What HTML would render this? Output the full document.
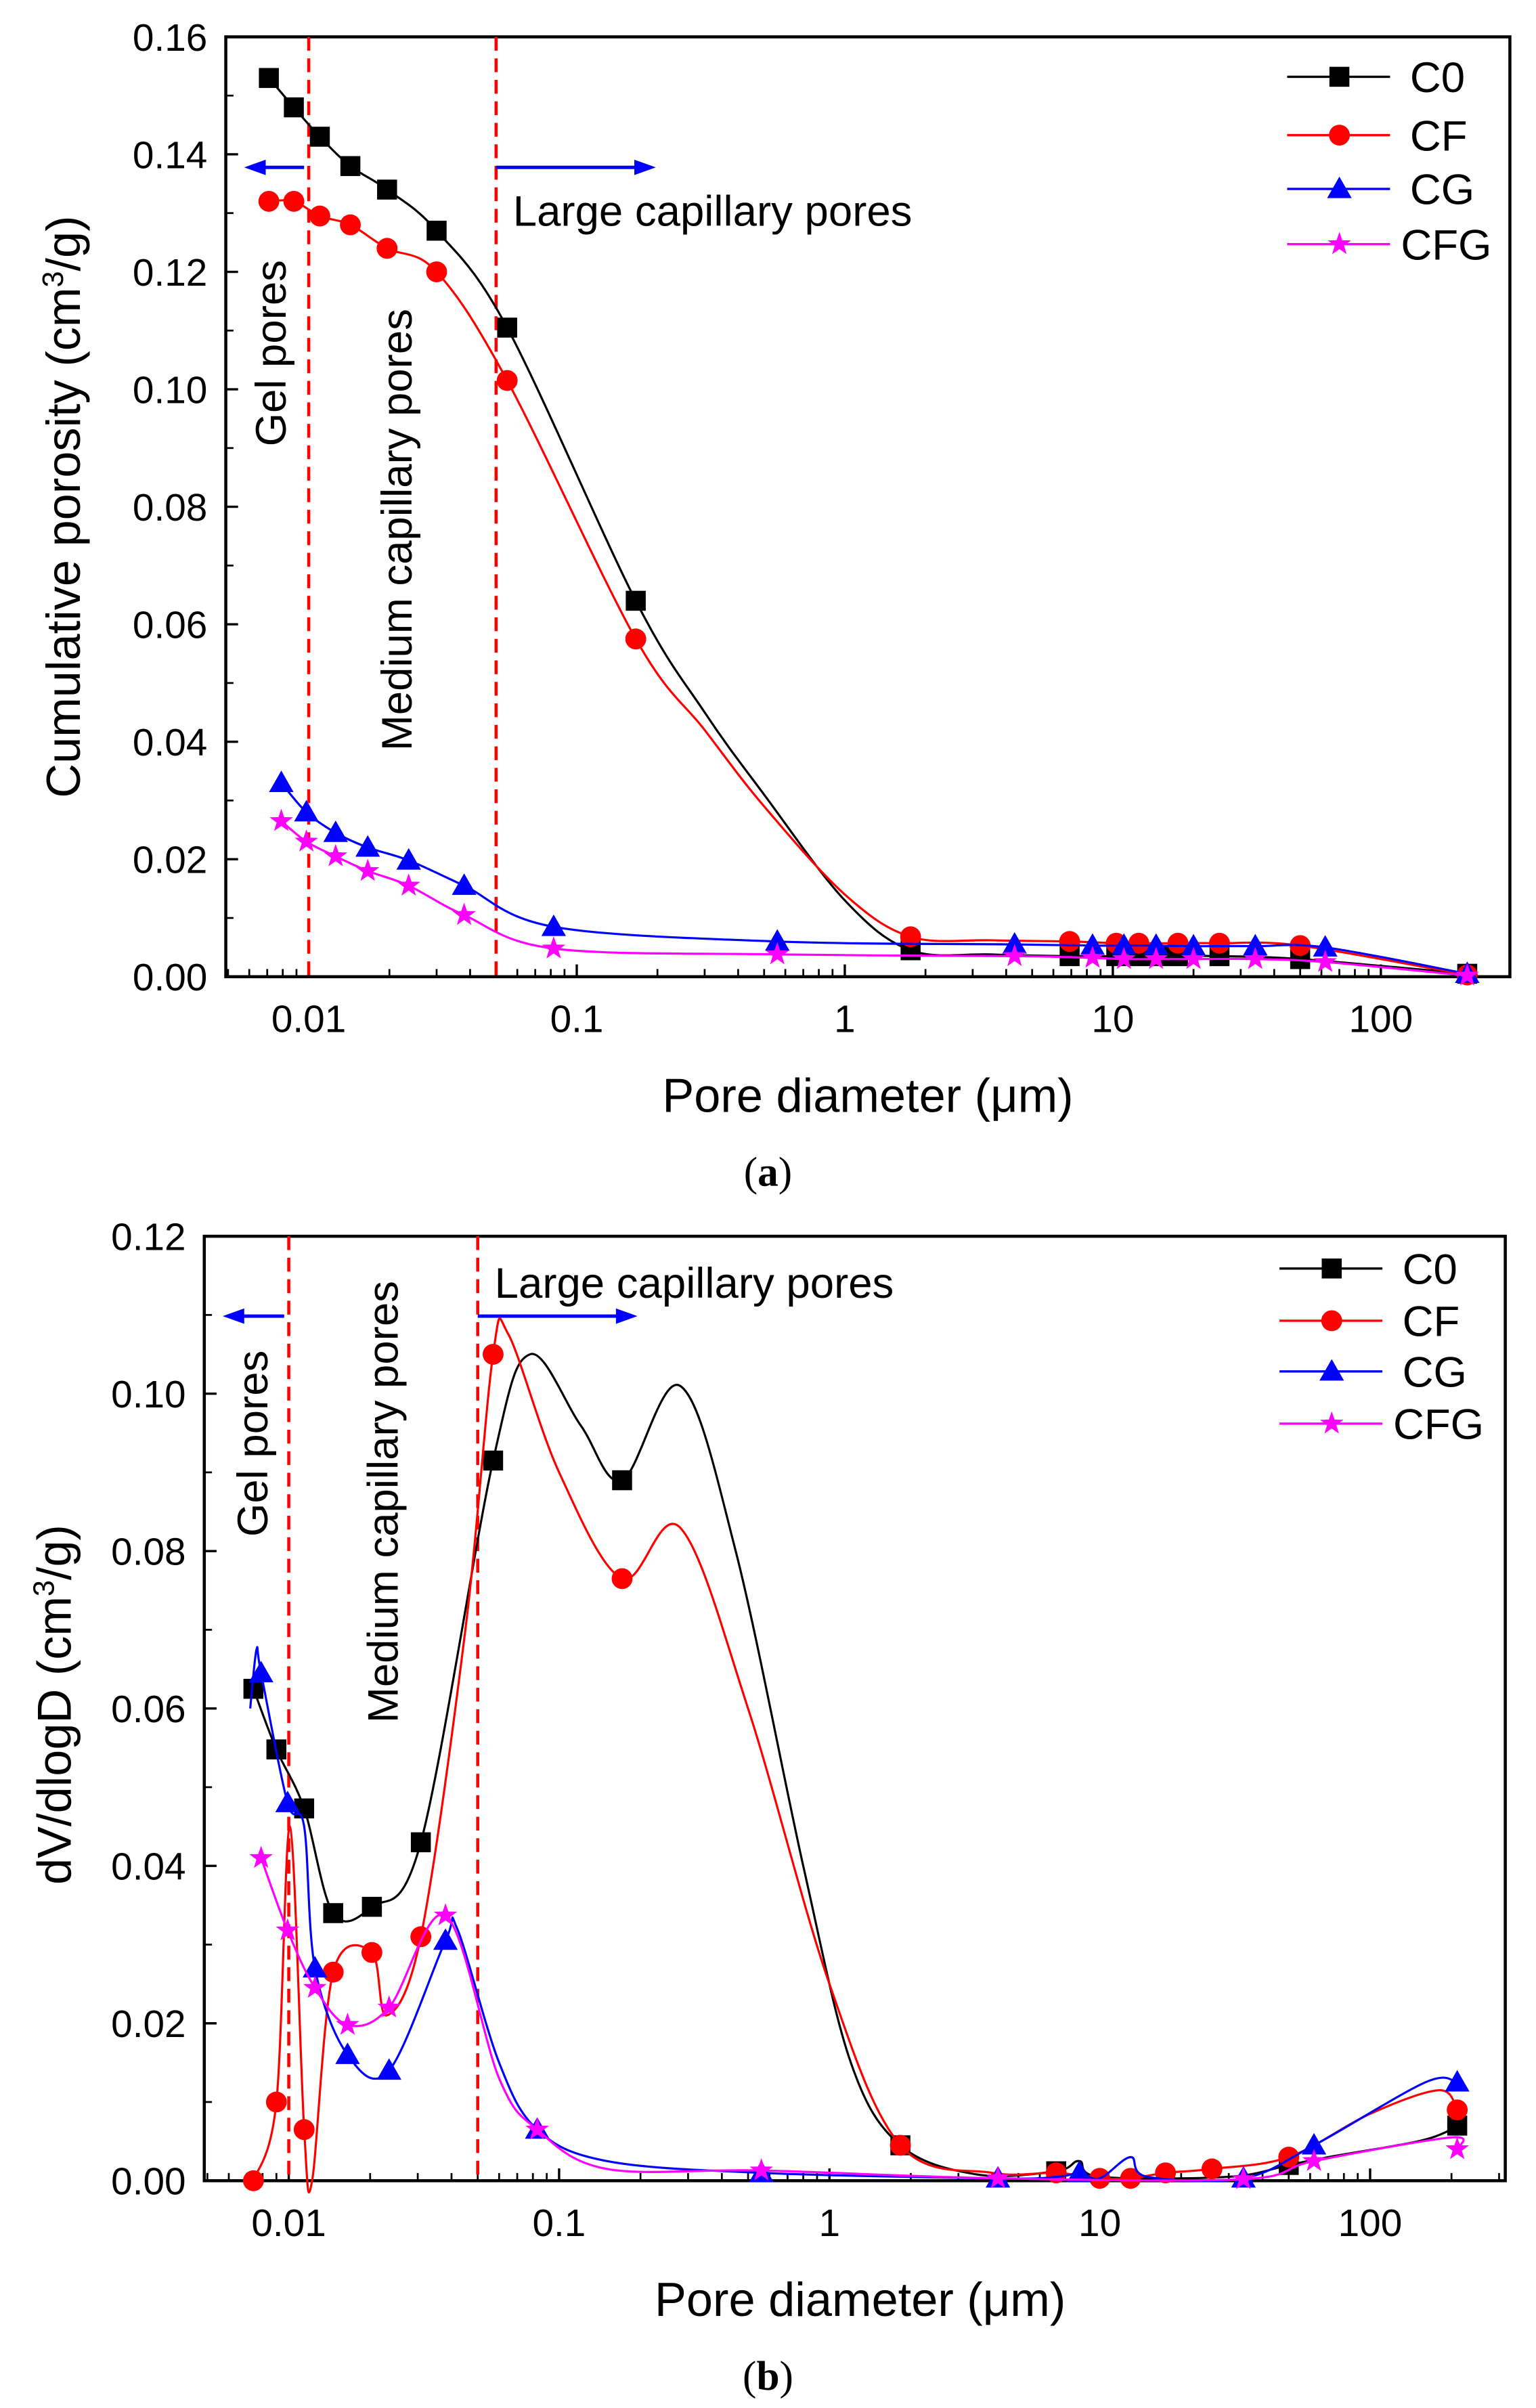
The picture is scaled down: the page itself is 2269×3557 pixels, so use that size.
<!DOCTYPE html>
<html><head><meta charset="utf-8"><style>
html,body{margin:0;padding:0;background:#fff;}
svg{display:block;}
text{font-family:"Liberation Sans",sans-serif;fill:#000;}
</style></head><body>
<svg id="fig" width="2269" height="3557" viewBox="0 0 1000 1568" preserveAspectRatio="none" xmlns="http://www.w3.org/2000/svg">
<g id="chartA"></g>
<g id="chartB"></g>
<text x="500" y="772" text-anchor="middle" font-size="27" style="font-family:'Liberation Serif',serif">(<tspan font-weight="bold">a</tspan>)</text>
<text x="500" y="1556" text-anchor="middle" font-size="27" style="font-family:'Liberation Serif',serif">(<tspan font-weight="bold">b</tspan>)</text>
</svg>
<script>
// ---- Chart A data (m = 1 marker drawn at point) ----
const seriesNames = ["C0","CF","CG","CFG"];
const aC0x = [0.0071,0.0088,0.011,0.0143,0.0196,0.030,0.055,0.166,0.3,0.5,1,1.76,3.5,6.9,10.3,12.5,14.8,17.5,25,50,210];
const aC0y = [0.153,0.148,0.143,0.138,0.134,0.127,0.1105,0.064,0.045,0.031,0.013,0.0045,0.0038,0.0035,0.0035,0.0035,0.0035,0.0035,0.0035,0.003,0.0005];
const aC0m = [1,1,1,1,1,1,1,1,0,0,0,1,0,1,1,1,1,1,1,1,1];
const aCFx = [0.0071,0.0088,0.011,0.0143,0.0196,0.030,0.055,0.166,0.3,0.5,1,1.76,3.5,6.9,10.3,12.5,17.5,25,50,210];
const aCFy = [0.132,0.132,0.1295,0.128,0.124,0.120,0.1015,0.0575,0.042,0.029,0.014,0.0068,0.0062,0.006,0.0057,0.0057,0.0057,0.0057,0.0053,0.0003];
const aCFm = [1,1,1,1,1,1,1,1,0,0,0,1,0,1,1,1,1,1,1,1];
const aCGx = [0.0079,0.0098,0.0126,0.0166,0.0236,0.038,0.082,0.56,4.3,8.4,11,14.5,20,34,62,210];
const aCGy = [0.033,0.028,0.0245,0.022,0.0198,0.0155,0.0085,0.006,0.0055,0.0053,0.0053,0.0053,0.0052,0.0052,0.005,0.0005];
const aCFGx = [0.0079,0.0098,0.0126,0.0166,0.0236,0.038,0.082,0.56,4.3,8.4,11,14.5,20,34,62,210];
const aCFGy = [0.0265,0.023,0.0205,0.018,0.0155,0.0105,0.0048,0.0038,0.0035,0.0032,0.003,0.003,0.003,0.003,0.0025,0.0002];
const aYTicks = [0,0.02,0.04,0.06,0.08,0.10,0.12,0.14,0.16];
const aYLabels = ["0.00","0.02","0.04","0.06","0.08","0.10","0.12","0.14","0.16"];
// ---- Chart B data ----
const bC0x = [0.0074,0.0090,0.0114,0.0146,0.0203,0.0308,0.057,0.078,0.12,0.171,0.28,0.45,0.8,1.2,1.83,3.5,6.9,8.4,10,30,50,70,150,200,210];
const bC0y = [0.0625,0.0548,0.0473,0.034,0.0348,0.043,0.0915,0.105,0.096,0.089,0.101,0.08,0.04,0.015,0.0045,0.0008,0.0012,0.0025,0.0005,0.0005,0.002,0.003,0.005,0.0065,0.007];
const bC0m = [1,1,1,1,1,1,1,0,0,1,0,0,0,0,1,0,1,0,0,0,1,0,0,0,1];
const bCFx = [0.0074,0.0090,0.0101,0.0114,0.0122,0.0146,0.0203,0.023,0.0308,0.045,0.057,0.065,0.1,0.171,0.28,0.5,1,1.83,4,6.9,10,13,17.5,26,50,100,180,210];
const bCFy = [0,0.010,0.045,0.0065,0,0.0265,0.029,0.021,0.031,0.07,0.105,0.1075,0.09,0.0765,0.083,0.06,0.025,0.0045,0.001,0.001,0.0003,0.0003,0.001,0.0015,0.003,0.0085,0.0115,0.009];
const bCFm = [1,1,0,1,0,1,1,0,1,0,1,0,0,1,0,0,0,1,0,1,1,1,1,1,1,0,0,1];
const bCGx = [0.0072,0.0076,0.0079,0.0099,0.0114,0.0125,0.0165,0.0235,0.038,0.042,0.06,0.083,0.15,0.56,4.2,7,8.4,10,13,15,34,62,160,210];
const bCGy = [0.060,0.0675,0.0645,0.048,0.045,0.027,0.016,0.014,0.0305,0.032,0.015,0.0065,0.0025,0.001,0.0003,0.0005,0.001,0.0003,0.003,0.0005,0.0003,0.0045,0.0125,0.0125];
const bCGm = [0,0,1,1,0,1,1,1,1,0,0,1,0,1,1,0,1,0,0,0,1,1,0,1];
const bCFGx = [0.0079,0.0099,0.0125,0.0165,0.0235,0.038,0.06,0.083,0.15,0.56,4.2,34,62,200,210];
const bCFGy = [0.041,0.0318,0.0245,0.0198,0.022,0.0337,0.013,0.0065,0.0015,0.0013,0.0003,0.0002,0.0025,0.0055,0.004];
const bCFGm = [1,1,1,1,1,1,0,1,0,1,1,1,1,0,1];
const bYTicks = [0,0.02,0.04,0.06,0.08,0.10,0.12];
const bYLabels = ["0.00","0.02","0.04","0.06","0.08","0.10","0.12"];
const xTickVals = [0.01,0.1,1,10,100];
const xTickLabels = ["0.01","0.1","1","10","100"];

const NS="http://www.w3.org/2000/svg";
const colors={C0:"#000",CF:"#f00",CG:"#00f",CFG:"#f0f"};
function mk(tag,parent,attrs){const e=document.createElementNS(NS,tag);for(const k in attrs)e.setAttribute(k,attrs[k]);parent.appendChild(e);return e;}

function smoothPath(pts){
  let d="M"+pts[0][0]+","+pts[0][1];
  for(let i=0;i<pts.length-1;i++){
    const p0=pts[Math.max(0,i-1)],p1=pts[i],p2=pts[i+1],p3=pts[Math.min(pts.length-1,i+2)];
    const c1=[p1[0]+(p2[0]-p0[0])/6,p1[1]+(p2[1]-p0[1])/6];
    const c2=[p2[0]-(p3[0]-p1[0])/6,p2[1]-(p3[1]-p1[1])/6];
    d+=" C"+c1[0].toFixed(2)+","+c1[1].toFixed(2)+" "+c2[0].toFixed(2)+","+c2[1].toFixed(2)+" "+p2[0].toFixed(2)+","+p2[1].toFixed(2);
  }
  return d;
}
function marker(g,name,x,y){
  const c=colors[name];let e;
  if(name==="C0") e=mk("rect",g,{x:x-6.5,y:y-6.5,width:13,height:13,fill:c});
  else if(name==="CF") e=mk("circle",g,{cx:x,cy:y,r:6.8,fill:c});
  else if(name==="CG") e=mk("polygon",g,{points:`${x},${y-8} ${x-8},${y+6} ${x+8},${y+6}`,fill:c});
  else {const pts=[];for(let k=0;k<10;k++){const r=k%2?3.2:8;const a=-Math.PI/2+k*Math.PI/5;pts.push((x+r*Math.cos(a)).toFixed(2)+","+(y+r*Math.sin(a)).toFixed(2));}
    e=mk("polygon",g,{points:pts.join(" "),fill:c});}
  
  
}

function drawChart(g,cfg){
  const {L,R,T,B,x0px,dec,ymax}=cfg;
  const sx=v=>x0px+(Math.log10(v)+2)*dec;
  const sy=v=>B-(v/ymax)*(B-T);
  const fr=mk("rect",g,{x:L,y:T,width:R-L,height:B-T,fill:"none",stroke:"#000","stroke-width":2});
  
  
  cfg.yTicks.forEach((v,i)=>{
    const y=sy(v);
    const t=mk("line",g,{x1:L,x2:L+8,y1:y,y2:y,stroke:"#000","stroke-width":1.5});
    
    
    if(i<cfg.yTicks.length-1){const ym=sy((v+cfg.yTicks[i+1])/2);
      const m=mk("line",g,{x1:L,x2:L+5,y1:ym,y2:ym,stroke:"#000","stroke-width":1.2});
      
      }
    const lb=mk("text",g,{x:L-12,y:y+9,"text-anchor":"end","font-size":25});
    lb.textContent=cfg.yLabels[i];
    
    
  });
  for(let e=-3;e<=2;e++){
    for(let k=1;k<10;k++){
      const v=k*Math.pow(10,e);const x=sx(v);
      if(x<L+1||x>R-1)continue;
      const len=k===1?8:5;
      const t=mk("line",g,{x1:x,x2:x,y1:B,y2:B-len,stroke:"#000","stroke-width":k===1?1.5:1.2});
      
      
    }
  }
  xTickVals.forEach((v,i)=>{
    const lb=mk("text",g,{x:sx(v),y:B+36,"text-anchor":"middle","font-size":25});
    lb.textContent=xTickLabels[i];
    
    
  });
  const xt=mk("text",g,{x:cfg.xTitleX,y:B+88,"text-anchor":"middle","font-size":31});
  xt.textContent="Pore diameter (μm)";
  
  
  const yt=mk("text",g,{x:0,y:0,"text-anchor":"middle","font-size":31,transform:`translate(${cfg.yTitleX},${cfg.yTitleY}) rotate(-90)`});
  yt.innerHTML=cfg.yTitle;
  
  
  [0.01,0.05].forEach(v=>{
    const dl=mk("line",g,{x1:sx(v),x2:sx(v),y1:T,y2:B,stroke:"#f00","stroke-width":2,"stroke-dasharray":"9,5"});
    
    
  });
  const ay=cfg.arrowY;
  const a1=mk("path",g,{d:`M${sx(0.01)-3},${ay} L${L+16},${ay}`,stroke:"#00f","stroke-width":2.2,fill:"none"});
  
  
  const h1=mk("polygon",g,{points:`${L+12},${ay} ${L+26},${ay-5} ${L+26},${ay+5}`,fill:"#00f"});
  
  
  const ax2=sx(0.05)+104;
  const a2=mk("path",g,{d:`M${sx(0.05)},${ay} L${ax2-8},${ay}`,stroke:"#00f","stroke-width":2.2,fill:"none"});
  
  
  const h2=mk("polygon",g,{points:`${ax2},${ay} ${ax2-14},${ay-5} ${ax2-14},${ay+5}`,fill:"#00f"});
  
  
  const t1=mk("text",g,{x:sx(0.05)+11,y:cfg.largeY,"font-size":28});
  t1.textContent="Large capillary pores";
  
  
  const t2=mk("text",g,{x:0,y:0,"text-anchor":"middle","font-size":28,transform:`translate(${cfg.gelX},${cfg.gelY}) rotate(-90)`});
  t2.textContent="Gel pores";
  
  
  const t3=mk("text",g,{x:0,y:0,"text-anchor":"middle","font-size":28,transform:`translate(${cfg.medX},${cfg.medY}) rotate(-90)`});
  t3.textContent="Medium capillary pores";
  
  
  cfg.series.forEach(s=>{
    const sg=mk("g",g,{});
    
    
    const pts=s.x.map((v,i)=>[sx(v),sy(s.y[i])]);
    const p=mk("path",sg,{d:smoothPath(pts),fill:"none",stroke:colors[s.name],"stroke-width":1.4});
    
    
    pts.forEach((pt,i)=>{ if(!s.m||s.m[i]) marker(sg,s.name,pt[0],pt[1]); });
  });
  const lg=mk("g",g,{});
  
  
  seriesNames.forEach((n,i)=>{
    const y=cfg.legY[i];
    const eg=mk("g",lg,{});
    
    
    const ln=mk("line",eg,{x1:cfg.legX,x2:cfg.legX+67,y1:y,y2:y,stroke:colors[n],"stroke-width":1.5});
    
    
    marker(eg,n,cfg.legX+34,y);
    const tx=mk("text",eg,{x:cfg.legX+(n==="CFG"?74:80),y:y+10,"font-size":28});
    tx.textContent=n;
    
    
  });
}

drawChart(document.getElementById("chartA"),{
  L:147,R:983,T:24,B:636,x0px:201,dec:174.5,ymax:0.16,
  yTicks:aYTicks,yLabels:aYLabels,
  yTitle:'Cumulative porosity (cm<tspan dy="-11" font-size="19">3</tspan><tspan dy="11">/g)</tspan>',yTitleX:52,yTitleY:330,xTitleX:565,
  arrowY:109,largeY:147,gelX:186,gelY:230,medX:268,medY:345,
  legX:838,legY:[50,88,123,159],
  series:[{name:"C0",x:aC0x,y:aC0y,m:aC0m},{name:"CF",x:aCFx,y:aCFy,m:aCFm},{name:"CG",x:aCGx,y:aCGy},{name:"CFG",x:aCFGx,y:aCFGy}]
});
drawChart(document.getElementById("chartB"),{
  L:133,R:980,T:805,B:1420,x0px:188,dec:176,ymax:0.12,
  yTicks:bYTicks,yLabels:bYLabels,
  yTitle:'dV/dlogD (cm<tspan dy="-11" font-size="19">3</tspan><tspan dy="11">/g)</tspan>',yTitleX:46,yTitleY:1110,xTitleX:560,
  arrowY:857,largeY:845,gelX:174,gelY:940,medX:259,medY:978,
  legX:833,legY:[826,860,893,927],
  series:[{name:"C0",x:bC0x,y:bC0y,m:bC0m},{name:"CF",x:bCFx,y:bCFy,m:bCFm},{name:"CG",x:bCGx,y:bCGy,m:bCGm},{name:"CFG",x:bCFGx,y:bCFGy,m:bCFGm}]
});
</script>
</body></html>
